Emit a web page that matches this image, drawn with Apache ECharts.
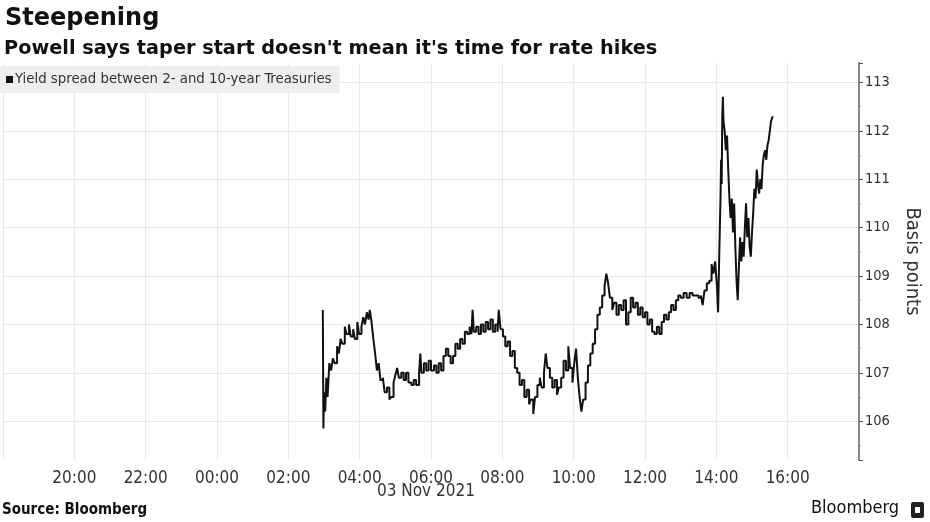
<!DOCTYPE html>
<html><head><meta charset="utf-8">
<script src="https://cdn.jsdelivr.net/npm/echarts@6/dist/echarts.min.js"></script>
<style>html,body{margin:0;padding:0;background:#fff}#c{width:930px;height:522px}</style>
</head><body><div id="c"></div>
<script>
// Times on 03 Nov 2021 (HH:MM) and yield spread (basis points)
const times = ["02:58","02:59","03:00","03:02","03:04","03:06","03:09","03:12","03:15","03:18","03:22","03:25","03:28","03:31","03:35","03:38","03:42","03:45","03:49","03:52","03:56","03:59","04:03","04:06","04:09","04:12","04:15","04:17","04:20","04:23","04:26","04:29","04:32","04:35","04:39","04:42","04:46","04:50","04:53","04:57","05:00","05:03","05:06","05:10","05:14","05:18","05:22","05:27","05:31","05:35","05:40","05:42","05:44","05:48","05:52","05:56","06:00","06:05","06:09","06:13","06:17","06:21","06:25","06:29","06:33","06:37","06:41","06:45","06:49","06:53","06:57","07:01","07:05","07:08","07:10","07:12","07:16","07:20","07:24","07:28","07:32","07:36","07:40","07:44","07:48","07:52","07:54","07:57","08:01","08:05","08:09","08:13","08:17","08:21","08:25","08:29","08:33","08:37","08:41","08:45","08:48","08:52","08:55","08:59","09:03","09:06","09:10","09:13","09:16","09:20","09:24","09:28","09:32","09:35","09:39","09:43","09:47","09:51","09:54","09:58","10:01","10:04","10:07","10:10","10:13","10:16","10:20","10:24","10:28","10:32","10:36","10:40","10:44","10:48","10:52","10:55","10:58","11:01","11:05","11:08","11:12","11:16","11:20","11:24","11:28","11:32","11:36","11:40","11:44","11:48","11:52","11:56","12:00","12:04","12:08","12:12","12:16","12:20","12:24","12:28","12:32","12:36","12:40","12:44","12:48","12:52","12:56","13:00","13:05","13:10","13:15","13:20","13:25","13:30","13:34","13:37","13:40","13:44","13:48","13:52","13:55","13:58","14:01","14:03","14:05","14:07","14:08","14:09","14:10","14:11","14:12","14:14","14:16","14:18","14:20","14:22","14:24","14:26","14:28","14:30","14:32","14:34","14:36","14:38","14:40","14:42","14:44","14:46","14:48","14:50","14:52","14:54","14:56","14:58","15:00","15:02","15:04","15:06","15:08","15:10","15:12","15:14","15:16","15:18","15:20","15:22","15:24","15:26","15:28","15:30","15:32","15:35"];
const spread = [108.3,105.85,106.6,106.2,106.9,106.5,107.2,107.05,107.3,107.2,107.55,107.4,107.7,107.6,107.95,107.8,108.0,107.75,107.9,107.7,108.05,107.8,107.95,108.15,108.0,108.25,108.1,108.3,108.05,107.7,107.4,107.05,107.2,106.85,106.9,106.6,106.7,106.45,106.5,106.8,106.95,107.1,106.9,107.0,106.85,107.0,106.8,106.75,106.85,106.75,107.0,107.4,107.0,107.2,107.05,107.25,107.05,107.15,107.0,107.2,107.05,107.35,107.5,107.35,107.2,107.35,107.6,107.5,107.7,107.6,107.85,107.8,107.95,107.8,108.3,107.85,107.95,107.8,108.0,107.85,108.05,107.9,108.1,107.85,108.0,107.85,108.3,107.9,107.75,107.55,107.65,107.35,107.45,107.1,107.0,106.75,106.85,106.5,106.65,106.35,106.45,106.15,106.5,106.75,106.9,106.7,107.0,107.4,107.1,106.9,106.7,106.85,106.55,106.7,106.9,107.25,107.05,107.55,107.1,106.8,107.2,107.5,106.9,106.5,106.2,106.45,106.8,107.15,107.4,107.6,107.9,108.2,108.35,108.6,108.8,109.05,108.85,108.55,108.3,108.45,108.2,108.4,108.3,108.5,108.0,108.25,108.55,108.35,108.45,108.2,108.35,108.15,108.25,108.0,108.1,107.85,107.8,107.95,107.8,108.05,108.2,108.1,108.25,108.4,108.3,108.5,108.6,108.55,108.65,108.55,108.65,108.6,108.6,108.55,108.6,108.4,108.7,108.85,108.9,109.25,109.05,109.3,108.8,108.25,109.5,110.6,111.4,110.9,112.3,112.7,112.2,112.0,111.6,111.9,111.2,110.6,110.2,110.6,109.9,110.5,109.6,108.9,108.5,109.2,109.8,109.3,109.7,109.4,110.0,110.5,109.8,110.2,109.6,109.4,109.9,110.3,110.8,110.6,111.2,110.9,110.7,111.0,110.8,111.3,111.5,111.6,111.4,111.7,111.8,112.0,112.2,112.3];
// x axis: hours relative to 03 Nov 00:00; tick labels every 2 hours
const xTickLabels = {"-4":"20:00","-2":"22:00","0":"00:00","2":"02:00","4":"04:00","6":"06:00","8":"08:00","10":"10:00","12":"12:00","14":"14:00","16":"16:00"};
const yTicks = [106,107,108,109,110,111,112,113];

function toHours(t){ const p=t.split(':'); return +p[0] + (+p[1])/60; }
const data = times.map((t,i)=>[toHours(t), spread[i]]);

const FONT = "'DejaVu Sans Condensed','DejaVu Sans',sans-serif";
const chart = echarts.init(document.getElementById('c'), null, {renderer:'canvas'});
chart.setOption({
  animation:false,
  backgroundColor:'#fff',
  title:[
    {text:'Steepening', left:0, top:2, textStyle:{fontFamily:'DejaVu Sans', fontWeight:'bold', fontSize:24, color:'#111'}},
    {text:"Powell says taper start doesn't mean it's time for rate hikes", left:-1, top:34, textStyle:{fontFamily:'DejaVu Sans', fontWeight:'bold', fontSize:19.3, color:'#111'}}
  ],
  legend:{left:0, top:66, backgroundColor:'#eeeeee', padding:[6,8,6,6], itemWidth:7, itemHeight:7, itemGap:4, icon:'rect',
    textStyle:{fontFamily:FONT, fontSize:14.8, color:'#333', padding:[0,0,0,-3]}},
  grid:{left:3, right:62, top:63, bottom:62},
  xAxis:{type:'value', min:-6, max:18, interval:2,
    axisLine:{show:false}, axisTick:{show:false},
    axisLabel:{showMinLabel:false, showMaxLabel:false, margin:10, fontFamily:FONT, fontSize:17, color:'#333',
      formatter:v=>xTickLabels[String(v)]||''},
    splitLine:{show:true, lineStyle:{color:'#e8e8e8', width:1}}},
  yAxis:{type:'value', position:'right', min:105.2, max:113.4, splitNumber:8, minInterval:1, maxInterval:1,
    name:'Basis points', nameLocation:'middle', nameRotate:-90, nameGap:43,
    nameTextStyle:{fontFamily:FONT, fontSize:20, color:'#333'},
    axisLine:{show:true, onZero:false, lineStyle:{color:'#888', width:2}},
    axisTick:{show:true, length:4, lineStyle:{color:'#555'}},
    minorTick:{show:true, splitNumber:2, length:2, lineStyle:{color:'#999'}},
    axisLabel:{showMinLabel:false, showMaxLabel:false, margin:6, fontFamily:FONT, fontSize:14.5, color:'#333'},
    splitLine:{show:false}},
  series:[{
    name:'Yield spread between 2- and 10-year Treasuries', type:'line', data:data, showSymbol:false,
    lineStyle:{color:'#111', width:2}, itemStyle:{color:'#111'}, step:'end',
    markLine:{silent:true, symbol:'none', label:{show:false}, lineStyle:{color:'#e8e8e8', width:1, type:'solid'},
      data:yTicks.map(v=>({yAxis:v})), z:0}
  }],
  graphic:[
    {type:'text', left:377, top:483, style:{text:'03 Nov 2021', font:"17px "+FONT, fill:'#333'}},
    {type:'text', left:2, top:503, style:{text:'Source: Bloomberg', font:"bold 15px "+FONT, fill:'#111'}},
    {type:'text', left:811, top:499, style:{text:'Bloomberg', font:"18px "+FONT, fill:'#111'}},
    {type:'rect', left:911, top:502, shape:{width:13, height:16, r:2}, style:{fill:'#222'}},
    {type:'rect', left:915, top:507, shape:{width:5, height:6}, style:{fill:'#fff'}}
  ]
});
</script></body></html>
